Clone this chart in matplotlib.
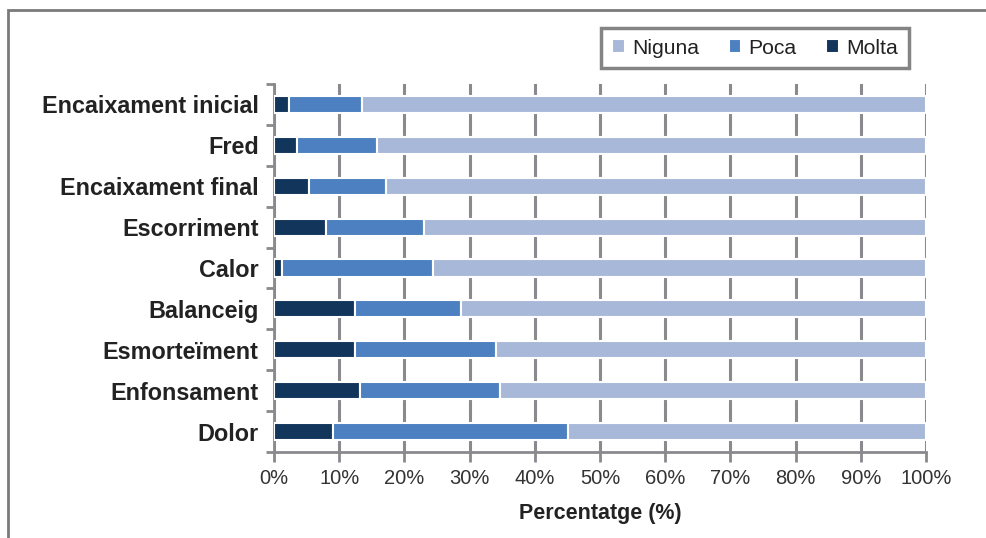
import matplotlib
matplotlib.use("Agg")
import matplotlib.pyplot as plt
from matplotlib.patches import Rectangle
import numpy as np

plt.rcParams['font.family'] = ['Liberation Sans', 'DejaVu Sans']

categories = ["Encaixament inicial", "Fred", "Encaixament final", "Escorriment",
              "Calor", "Balanceig", "Esmorteïment", "Enfonsament", "Dolor"]
molta = [2.3, 3.6, 5.3, 8.0, 1.2, 12.4, 12.4, 13.2, 9.0]
poca = [11.2, 12.2, 11.9, 15.0, 23.2, 16.3, 21.6, 21.5, 36.1]
niguna = [100 - m - p for m, p in zip(molta, poca)]
xticks = list(range(0, 101, 10))
xticklabels = [f"{t}%" for t in xticks]

c_molta = "#12355B"
c_poca = "#4C80C0"
c_niguna = "#A8B8D8"
grid_c = "#8A8A8E"

fig = plt.figure(figsize=(9.86, 5.38), dpi=100)
ax = fig.add_axes([274/986, 1 - 452/538, (926 - 274)/986, (452 - 84)/538])

y = np.arange(len(categories))
h = 0.42
ax.barh(y, molta, height=h, color=c_molta, edgecolor="white", linewidth=1.5, label="Molta", zorder=3)
ax.barh(y, poca, left=molta, height=h, color=c_poca, edgecolor="white", linewidth=1.5, label="Poca", zorder=3)
left2 = [m + p for m, p in zip(molta, poca)]
ax.barh(y, niguna, left=left2, height=h, color=c_niguna, edgecolor="white", linewidth=1.5, label="Niguna", zorder=3)

ax.set_xlim(0, 100)
ax.set_ylim(len(categories) - 0.5, -0.5)
ax.set_xticks(xticks)
ax.set_xticklabels(xticklabels, fontsize=14.5, color="#333333")
ax.set_yticks(y)
ax.set_yticklabels(categories, fontsize=16.8, fontweight="bold", color="#222222")
ax.set_yticks(np.arange(-0.5, len(categories)), minor=True)
ax.tick_params(axis="y", which="major", length=0, pad=11)
ax.tick_params(axis="y", which="minor", length=6, width=2, color=grid_c, direction="out")
ax.tick_params(axis="x", which="major", length=7, width=2, color=grid_c, direction="out", pad=5)

ax.grid(axis="x", color=grid_c, linewidth=2.2, zorder=0)
ax.set_axisbelow(True)
for s in ["top", "right"]:
    ax.spines[s].set_visible(False)
for s in ["left", "bottom"]:
    ax.spines[s].set_color(grid_c)
    ax.spines[s].set_linewidth(2)

ax.set_xlabel("Percentatge (%)", fontsize=15.5, fontweight="bold", color="#222222", labelpad=11)

handles, labels = ax.get_legend_handles_labels()
order = [2, 1, 0]
leg = fig.legend([handles[i] for i in order], [labels[i] for i in order],
                 loc="center", bbox_to_anchor=(755/986, 1 - 48/538), ncol=3,
                 fontsize=15.2, frameon=True, fancybox=False, handlelength=0.6,
                 handleheight=0.6, handletextpad=0.35, columnspacing=1.4,
                 borderpad=0.5)
leg.get_frame().set_edgecolor("#666666")
leg.get_frame().set_linewidth(2.5)
for t in leg.get_texts():
    t.set_color("#222222")

top = 1 - 10/538
fig.patches.append(Rectangle((8/986, -0.2), 1.2, top + 0.2, transform=fig.transFigure,
                             fill=False, edgecolor="#7A7A7A", linewidth=2, clip_on=False))

fig.savefig("out.png", dpi=100)
